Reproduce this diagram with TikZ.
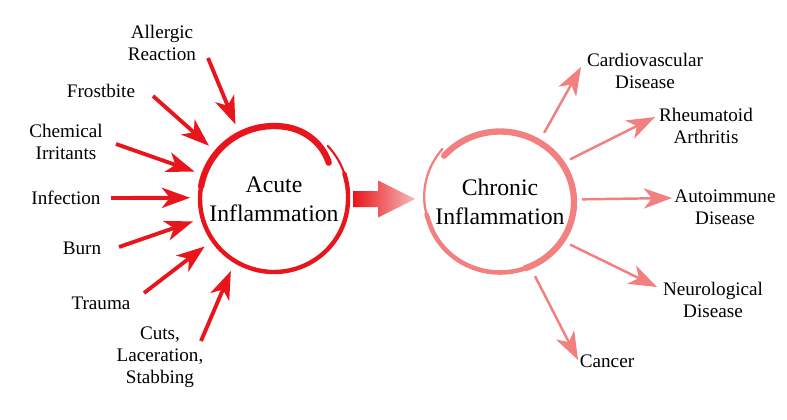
\documentclass[tikz,border=0pt]{standalone}
\usepackage{fontspec}
\setmainfont{Liberation Serif}
\usetikzlibrary{arrows.meta}

\definecolor{acured}{RGB}{232,22,28}
\definecolor{chrpink}{RGB}{242,128,128}

\begin{document}
\begin{tikzpicture}[x=0.02cm, y=-0.02cm,
    declare function={ea(\t)=2*max(0,\t/45)-8*(max(0,(-280-\t)/46))^2; ec(\t)=6*max(0,(196-\t)/60);},
    lbl/.style={align=center, inner sep=0pt, font=\fontsize{10.9}{12.5}\selectfont},
    hub/.style={circle, inner sep=0pt, align=center, font=\fontsize{13.5}{16.4}\selectfont},
    inarr/.style={acured, line width=2.2pt, shorten >=10*0.567pt, -{Stealth[length=16pt, width=11.5pt, inset=4.5pt]}},
    outarr/.style={chrpink, line width=1.4pt, shorten <=10*0.567pt, -{Stealth[length=16pt, width=11.5pt, inset=4.5pt]}},
    acuring/.style={acured, line cap=round},
    chrring/.style={chrpink, line cap=round}]
    \useasboundingbox (0,0) rectangle (787,419);

    % hubs
    \node[hub, minimum size=83.9pt] (acu) at (274,199) {Acute\\Inflammation};
    \node[hub, minimum size=81.6pt] (chr) at (500,202) {Chronic\\Inflammation};

    % causes
    \node[lbl] (alg) at (162,43) {Allergic\\Reaction};
    \node[lbl] (fro) at (101,91) {Frostbite};
    \node[lbl] (chm) at (66,142) {Chemical\\Irritants};
    \node[lbl] (inf) at (66,198) {Infection};
    \node[lbl] (brn) at (82,248) {Burn};
    \node[lbl] (trm) at (101,303) {Trauma};
    \node[lbl] (cut) at (160,357) {Cuts,\\Laceration,\\Stabbing};

    % diseases
    \node[lbl] (cvd) at (645,71) {Cardiovascular\\Disease};
    \node[lbl] (ra) at (706,126) {Rheumatoid\\Arthritis};
    \node[lbl] (aid) at (725,207) {Autoimmune\\Disease};
    \node[lbl] (neu) at (713,300) {Neurological\\Disease};
    \node[lbl] (can) at (607,361) {Cancer};

    % rings
    \begin{scope}[shift={(acu.center)}]
        \draw[acuring, line width=1.2pt] plot[domain=45:15, samples=12] ({(74+ea(\x))*cos(\x)}, {-(73+ea(\x))*sin(\x)});
        \draw[acuring, line width=2.5pt] plot[domain=20:-200, samples=60] ({(74+ea(\x))*cos(\x)}, {-(73+ea(\x))*sin(\x)});
        \draw[acuring, line width=3.6pt] plot[domain=-190:-326, samples=40] ({(74+ea(\x))*cos(\x)}, {-(73+ea(\x))*sin(\x)});
    \end{scope}
    \begin{scope}[shift={(chr.center)}]
        \draw[chrring, line width=1.3pt] plot[domain=136:200, samples=20] ({(74+ec(\x))*cos(\x)}, {-(70.5+ec(\x))*sin(\x)});
        \draw[chrring, line width=2.6pt] plot[domain=190:300, samples=30] ({(74+ec(\x))*cos(\x)}, {-(70.5+ec(\x))*sin(\x)});
        \draw[chrring, line width=3.6pt] plot[domain=290:499, samples=60] ({(74+ec(\x))*cos(\x)}, {-(70.5+ec(\x))*sin(\x)});
    \end{scope}

    % arrow tails and heads
    \coordinate (alg-t) at (208,58);
    \coordinate (fro-t) at (153,96);
    \coordinate (chm-t) at (116,144);
    \coordinate (inf-t) at (111,198);
    \coordinate (brn-t) at (119,247);
    \coordinate (trm-t) at (144,293);
    \coordinate (cut-t) at (201,341);
    \coordinate (cvd-h) at (581,67);
    \coordinate (ra-h) at (655,117);
    \coordinate (aid-h) at (672,198);
    \coordinate (neu-h) at (657,287);
    \coordinate (can-h) at (578,360);

    \draw[inarr] (alg-t) -- (acu.118.6);
    \draw[inarr] (fro-t) -- (acu.141);
    \draw[inarr] (chm-t) -- (acu.161);
    \draw[inarr] (inf-t) -- (acu.179);
    \draw[inarr] (brn-t) -- (acu.195);
    \draw[inarr] (trm-t) -- (acu.214);
    \draw[inarr] (cut-t) -- (acu.238);

    \draw[outarr] (chr.57.5) -- (cvd-h);
    \draw[outarr] (chr.32) -- (ra-h);
    \draw[outarr] (chr.2.8) -- (aid-h);
    \draw[outarr] (chr.-32) -- (neu-h);
    \draw[outarr] (chr.-65.3) -- (can-h);

    % big arrow
    \shade[left color=acured, right color=chrpink!55] ([shift={(5,-8)}]acu.east) -- ++(25,0) -- ++(0,-10.5) -- ++(37,18.5) -- ++(-37,18.5) -- ++(0,-10.5) -- ++(-25,0) -- cycle;
\end{tikzpicture}
\end{document}
